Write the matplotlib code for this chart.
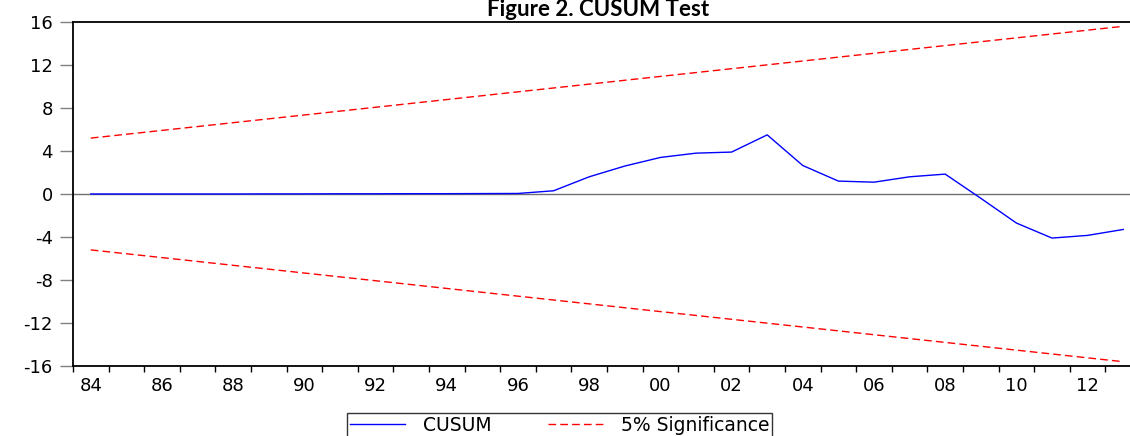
import matplotlib
matplotlib.use("Agg")
import matplotlib.pyplot as plt
import numpy as np

# CUSUM test data, one value per year
years = np.arange(1984, 2014)
cusum = [0.0, 0.0, 0.0, 0.0, 0.0, 0.01, 0.01, 0.02, 0.02, 0.03, 0.03, 0.04,
         0.05, 0.3, 1.6, 2.6, 3.4, 3.8, 3.9, 5.5, 2.65, 1.2, 1.1, 1.6,
         1.85, -0.4, -2.7, -4.1, -3.85, -3.3]

# 5% significance bounds (straight lines, endpoints)
bound_years = [1984, 2013]
upper_bound = [5.2, 15.6]
lower_bound = [-5.2, -15.6]

y_ticks = [-16, -12, -8, -4, 0, 4, 8, 12, 16]
x_label_years = np.arange(1984, 2014, 2)

plt.rcParams['font.family'] = ['DejaVu Sans']
plt.rcParams['axes.unicode_minus'] = False

fig = plt.figure(figsize=(11.3, 4.36), dpi=100)
ax = fig.add_axes([73 / 1130, 1 - 366 / 436, 1068 / 1130, 344 / 436])

ax.axhline(0, color='#707070', lw=1.0, zorder=1)
ax.plot(years, cusum, color='#0000ff', lw=1.0, label='CUSUM', zorder=3)
ax.plot(bound_years, upper_bound, color='#ff0000', lw=1.0,
        dashes=(5.5, 3), label='5% Significance', zorder=2)
ax.plot(bound_years, lower_bound, color='#ff0000', lw=1.0,
        dashes=(5.5, 3), zorder=2)

ax.set_xlim(1983.5, 2013.5)
ax.set_ylim(-16, 16)

# y axis: gray ticks
ax.set_yticks(y_ticks)
ax.set_yticklabels([str(v) for v in y_ticks])
ax.tick_params(axis='y', direction='out', length=9.5, width=1.0,
               color='#808080', labelsize=13, pad=5, labelcolor='black')

# x axis: ticks at year boundaries, labels at centre of even years
ax.set_xticks(x_label_years)
ax.set_xticklabels([f'{y % 100:02d}' for y in x_label_years])
ax.set_xticks(np.arange(1983.5, 2014.5, 1), minor=True)
ax.tick_params(axis='x', which='major', length=0, labelsize=13, pad=8)
ax.tick_params(axis='x', which='minor', direction='out', length=4.5,
               width=1.0, color='black')

for side in ['left', 'top', 'bottom', 'right']:
    ax.spines[side].set_linewidth(1.3)
    ax.spines[side].set_color('black')

fig.text(598 / 1130, 1 - 16 / 436, 'Figure 2. CUSUM Test', ha='center',
         va='baseline', fontsize=16, fontweight='bold',
         family=['Lato', 'DejaVu Sans'])

handles, labels = ax.get_legend_handles_labels()
leg = fig.legend(handles, labels, loc='upper left', ncol=2,
                 bbox_to_anchor=(347 / 1130, 1 - 413 / 436),
                 borderaxespad=0, fancybox=False, frameon=True,
                 fontsize=13.5, handlelength=2.95, handletextpad=0.95,
                 columnspacing=3.0, borderpad=0.15)
leg.get_frame().set_edgecolor('black')
leg.get_frame().set_linewidth(1.0)

fig.savefig('out.png', dpi=100)
